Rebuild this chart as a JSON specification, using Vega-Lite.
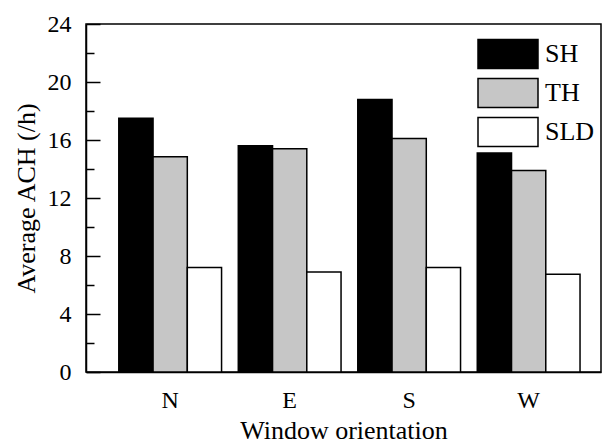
{
  "$schema": "https://vega.github.io/schema/vega-lite/v6.json",
  "autosize": {"type": "none"},
  "padding": {"left": 86, "top": 24, "right": 5, "bottom": 76},
  "width": 515,
  "height": 348,
  "background": "white",
  "config": {
    "font": "Liberation Serif",
    "axis": {"labelFont": "Liberation Serif", "titleFont": "Liberation Serif"},
    "legend": {"labelFont": "Liberation Serif"},
    "view": {"stroke": "black", "strokeWidth": 1.5}
  },
  "data": {
    "values": [
      {"orientation": "N", "type": "SH", "ach": 17.5},
      {"orientation": "N", "type": "TH", "ach": 14.85},
      {"orientation": "N", "type": "SLD", "ach": 7.2},
      {"orientation": "E", "type": "SH", "ach": 15.6},
      {"orientation": "E", "type": "TH", "ach": 15.4},
      {"orientation": "E", "type": "SLD", "ach": 6.9},
      {"orientation": "S", "type": "SH", "ach": 18.8},
      {"orientation": "S", "type": "TH", "ach": 16.1},
      {"orientation": "S", "type": "SLD", "ach": 7.2},
      {"orientation": "W", "type": "SH", "ach": 15.1},
      {"orientation": "W", "type": "TH", "ach": 13.9},
      {"orientation": "W", "type": "SLD", "ach": 6.75}
    ]
  },
  "mark": {"type": "bar", "stroke": "black", "strokeWidth": 1.5},
  "encoding": {
    "x": {
      "field": "orientation",
      "type": "nominal",
      "sort": ["N", "E", "S", "W"],
      "scale": {"paddingInner": 0.14, "paddingOuter": 0.225, "align": 0.61},
      "axis": {
        "title": "Window orientation",
        "titleFontSize": 26,
        "titleFontWeight": "normal",
        "titleColor": "black",
        "titlePadding": 5,
        "labelFontSize": 24,
        "labelColor": "black",
        "labelAngle": 0,
        "labelBaseline": "middle",
        "labelPadding": 28,
        "ticks": false,
        "domainColor": "black",
        "domainWidth": 1.5,
        "grid": false
      }
    },
    "xOffset": {"field": "type", "type": "nominal", "sort": ["SH", "TH", "SLD"], "scale": {"paddingInner": 0, "paddingOuter": 0}},
    "y": {
      "field": "ach",
      "type": "quantitative",
      "scale": {"domain": [0, 24], "nice": false},
      "axis": {
        "title": "Average ACH (/h)",
        "titleFontSize": 26,
        "titleFontWeight": "normal",
        "titleColor": "black",
        "titlePadding": 8,
        "values": [0, 2, 4, 6, 8, 10, 12, 14, 16, 18, 20, 22, 24],
        "labelExpr": "datum.value % 4 === 0 ? datum.label : ''",
        "labelFontSize": 24,
        "labelColor": "black",
        "labelPadding": 29,
        "labelBaseline": "middle",
        "tickSize": {"condition": {"test": "datum.value % 4 === 0", "value": -14}, "value": -8},
        "tickColor": "black",
        "tickWidth": 1.5,
        "domainColor": "black",
        "domainWidth": 1.5,
        "grid": false
      }
    },
    "color": {
      "field": "type",
      "type": "nominal",
      "sort": ["SH", "TH", "SLD"],
      "scale": {"domain": ["SH", "TH", "SLD"], "range": ["#000000", "#c6c6c6", "#ffffff"]},
      "legend": {
        "title": null,
        "orient": "none",
        "legendX": 406,
        "legendY": 14,
        "padding": 0,
        "symbolType": "M-2,-0.96L2,-0.96L2,0.96L-2,0.96Z",
        "symbolSize": 900,
        "symbolStrokeColor": "black",
        "symbolStrokeWidth": 1.5,
        "symbolOpacity": 1,
        "labelFontSize": 26,
        "labelColor": "black",
        "labelOffset": 21,
        "rowPadding": 3
      }
    }
  }
}
